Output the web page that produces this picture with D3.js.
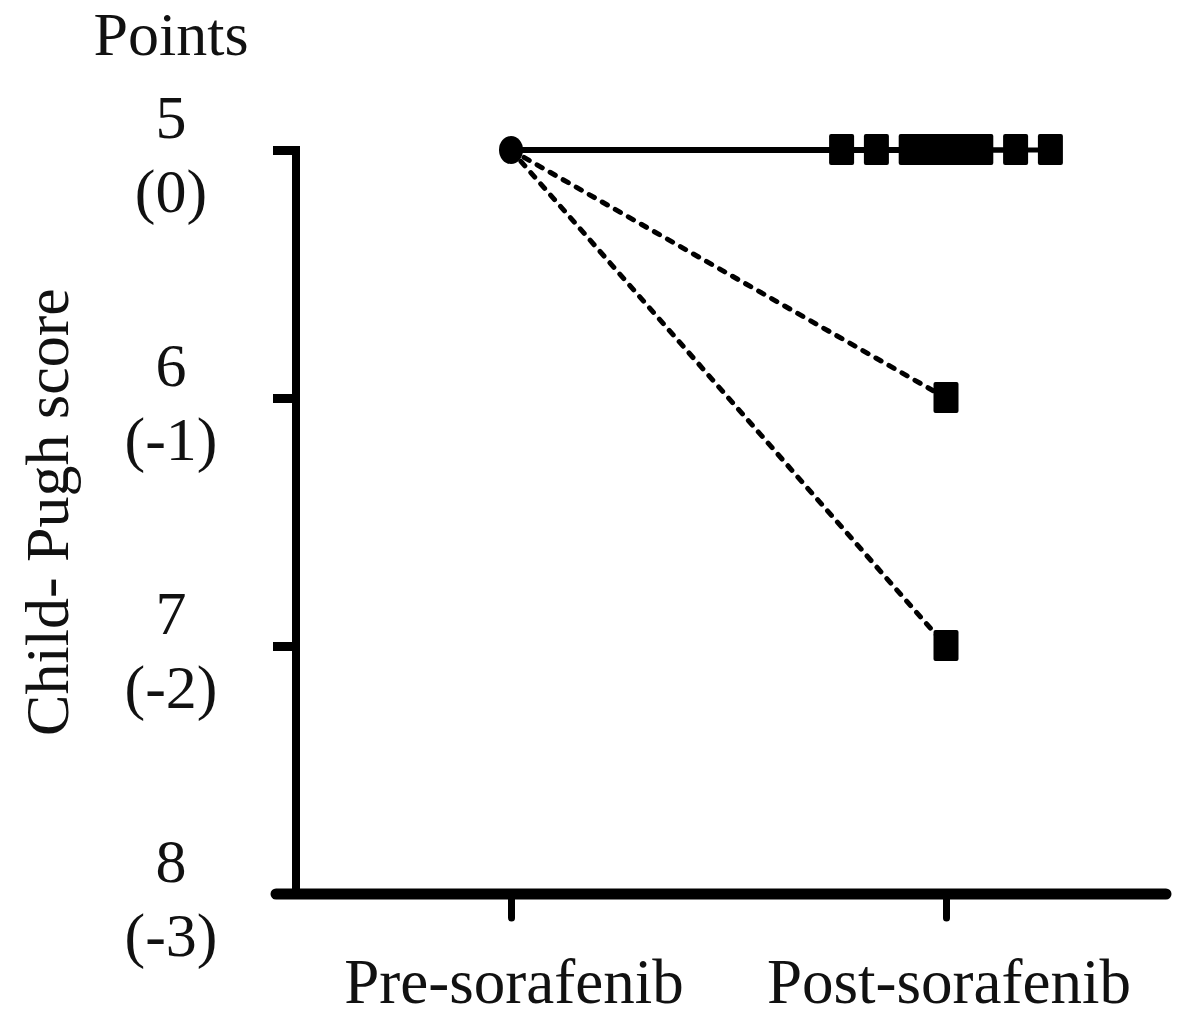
<!DOCTYPE html>
<html>
<head>
<meta charset="utf-8">
<script src="https://cdn.jsdelivr.net/npm/d3@7"></script>
<style>
  body { margin: 0; background: #fff; }
  text { font-family: "Liberation Serif", "Times New Roman", serif; fill: #111; }
</style>
</head>
<body>
<div id="chart"></div>
<script>
// groups on the x axis (1 = pre, 2 = post)
const groups = ["Pre-sorafenib", "Post-sorafenib"];
const groupPos = [1, 2];

// y axis: Child-Pugh score and change in points
const scoreTicks = [5, 6, 7, 8];
const changeLabels = ["(0)", "(-1)", "(-2)", "(-3)"];

// every patient starts at 5
const preScores = [5, 5, 5, 5, 5, 5, 5, 5, 5, 5, 5, 5, 5, 5];
const postScores = [5, 5, 5, 5, 5, 5, 5, 5, 5, 5, 5, 5, 6, 7];
// horizontal spread of the post markers (x units)
const postJitter = [-0.24, -0.16, -0.08, -0.055, -0.03, -0.005, 0.015, 0.035, 0.06, 0.08, 0.16, 0.24, 0, 0];

const W = 1181, H = 1018;

const svg = d3.select("#chart").append("svg")
    .attr("width", W)
    .attr("height", H);

svg.append("rect").attr("width", W).attr("height", H).attr("fill", "#fff");

const x = d3.scaleLinear().domain([1, 2]).range([511, 946]);
const y = d3.scaleLinear().domain([5, 8]).range([150, 894]);

// y axis
const yAxis = svg.append("g")
    .attr("transform", "translate(296,0)")
    .call(d3.axisLeft(y).tickValues(scoreTicks).tickSize(23).tickSizeOuter(0).tickFormat(""));
yAxis.select(".domain").attr("stroke", "#000").attr("stroke-width", 8)
    .attr("d", `M0,${y(5) - 4}V${y(8) + 4}`);
yAxis.selectAll(".tick line").attr("stroke", "#000").attr("stroke-width", 9);

// x axis
const xAxis = svg.append("g")
    .attr("transform", `translate(0,${y(8)})`)
    .call(d3.axisBottom(x).tickValues(groupPos).tickSize(24).tickSizeOuter(0).tickFormat(""));
xAxis.select(".domain").attr("stroke", "#000").attr("stroke-width", 11)
    .attr("stroke-linecap", "round")
    .attr("d", "M276,0H1166");
xAxis.selectAll(".tick line").attr("stroke", "#000").attr("stroke-width", 7)
    .attr("stroke-linecap", "round");

// group labels
svg.selectAll(".glabel")
    .data(groups)
    .enter()
    .append("text")
      .attr("class", "glabel")
      .attr("x", (d, i) => x(groupPos[i]) + 3)
      .attr("y", y(8) + 109)
      .attr("text-anchor", "middle")
      .style("font-size", "63px")
      .text(d => d);

// two-line tick labels
const tl = svg.selectAll(".tlabel")
    .data(scoreTicks)
    .enter()
    .append("g")
      .attr("class", "tlabel");
tl.append("text")
    .attr("x", 171)
    .attr("y", d => y(d) - 12)
    .attr("text-anchor", "middle")
    .style("font-size", "62px")
    .text(d => d);
tl.append("text")
    .attr("x", 171)
    .attr("y", d => y(d) + 62)
    .attr("text-anchor", "middle")
    .style("font-size", "62px")
    .text((d, i) => changeLabels[i]);

svg.append("text")
    .attr("x", 171)
    .attr("y", 55)
    .attr("text-anchor", "middle")
    .style("font-size", "62px")
    .text("Points");

svg.append("text")
    .attr("transform", "rotate(-90)")
    .attr("x", -512)
    .attr("y", 68)
    .attr("text-anchor", "middle")
    .style("font-size", "62px")
    .text("Child- Pugh score");

// patient lines
const pairs = postScores.map((s, i) => ({ pre: preScores[i], post: s, jit: postJitter[i] }));

svg.append("g")
    .selectAll("line")
    .data(pairs)
    .enter()
    .append("line")
      .attr("x1", x(1))
      .attr("y1", d => y(d.pre))
      .attr("x2", d => x(2 + d.jit))
      .attr("y2", d => y(d.post))
      .attr("stroke", "#000")
      .attr("stroke-width", d => d.post === d.pre ? 5 : 5)
      .attr("stroke-linecap", d => d.post === d.pre ? "butt" : "round")
      .attr("stroke-dasharray", d => d.post === d.pre ? null : "6,9");

// pre marker
svg.append("ellipse")
    .attr("cx", x(1))
    .attr("cy", y(5))
    .attr("rx", 12)
    .attr("ry", 14)
    .attr("fill", "#000");

// post markers
svg.append("g")
    .selectAll("rect")
    .data(pairs)
    .enter()
    .append("rect")
      .attr("x", d => x(2 + d.jit) - 12.5)
      .attr("y", d => y(d.post) - 16)
      .attr("width", 25)
      .attr("height", 31)
      .attr("rx", 2)
      .attr("fill", "#000");
</script>
</body>
</html>
